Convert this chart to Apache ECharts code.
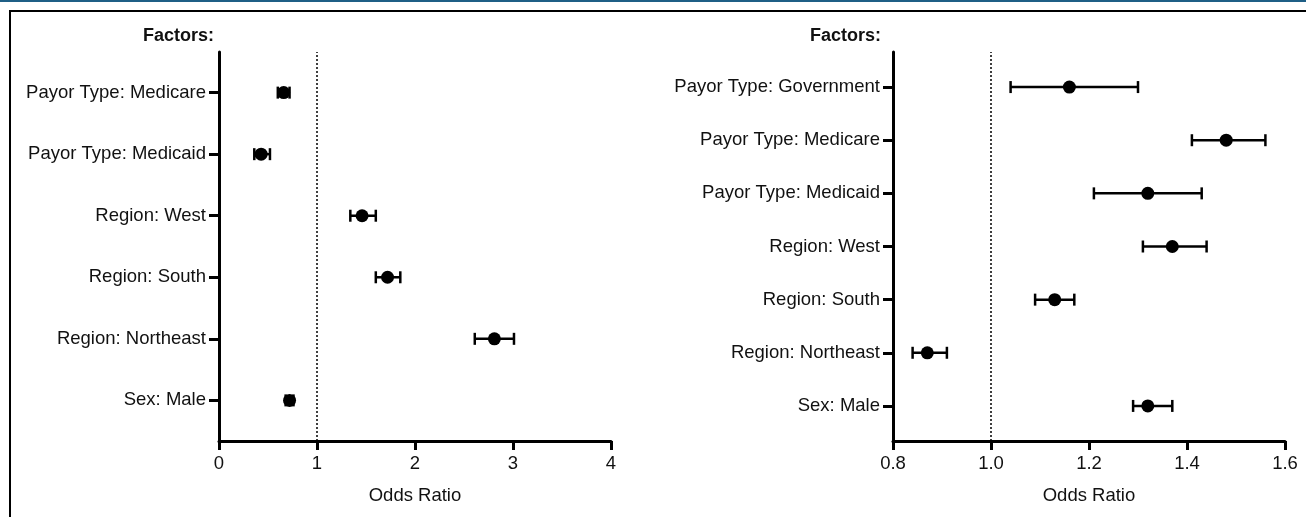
<!DOCTYPE html>
<html>
<head>
<meta charset="utf-8">
<script src="https://cdn.jsdelivr.net/npm/echarts@6/dist/echarts.min.js"></script>
<style>
html,body{margin:0;padding:0;background:#fff;}
#chart{width:1306px;height:517px;}
</style>
</head>
<body>
<div id="chart"></div>
<script>
// ---- Data (top to bottom order) ----
const leftFactors = ['Payor Type: Medicare','Payor Type: Medicaid','Region: West','Region: South','Region: Northeast','Sex: Male'];
const leftOR   = [0.66, 0.43, 1.46, 1.72, 2.81, 0.72];
const leftLow  = [0.60, 0.36, 1.34, 1.60, 2.61, 0.68];
const leftHigh = [0.72, 0.52, 1.60, 1.85, 3.01, 0.76];

const rightFactors = ['Payor Type: Government','Payor Type: Medicare','Payor Type: Medicaid','Region: West','Region: South','Region: Northeast','Sex: Male'];
const rightOR   = [1.16, 1.48, 1.32, 1.37, 1.13, 0.87, 1.32];
const rightLow  = [1.04, 1.41, 1.21, 1.31, 1.09, 0.84, 1.29];
const rightHigh = [1.30, 1.56, 1.43, 1.44, 1.17, 0.91, 1.37];

const leftTicks = [0, 1, 2, 3, 4];
const rightTicks = [0.8, 1.0, 1.2, 1.4, 1.6];

const FONT = 'Liberation Sans, Arial, Helvetica, sans-serif';
const TXT = '#111';
const FS = 18.5;
const PAD = 0.66;

function yAxisFor(idx, factors, namePad){
  const n = factors.length;
  const vals = factors.map((_, i) => i);
  return {
    type: 'value', gridIndex: idx,
    min: -PAD, max: n - 1 + PAD,
    name: 'Factors:', nameLocation: 'end', nameGap: 7,
    nameTextStyle: {fontFamily: FONT, fontSize: 18, fontWeight: 'bold', color: TXT, align: 'right', verticalAlign: 'bottom', padding: [0, namePad, 0, 0]},
    axisLine: {show: true, onZero: false, lineStyle: {color: '#000', width: 3}},
    axisTick: {show: true, inside: false, length: 10, lineStyle: {color: '#000', width: 3}, customValues: vals},
    axisLabel: {show: true, margin: 13, fontFamily: FONT, fontSize: FS, color: TXT, customValues: vals,
      formatter: v => factors[n - 1 - Math.round(v)]},
    splitLine: {show: false}
  };
}
function xAxisFor(idx, ticks, dec){
  const step = ticks[1] - ticks[0];
  return {
    type: 'value', gridIndex: idx,
    min: ticks[0], max: ticks[ticks.length - 1], interval: step,
    name: 'Odds Ratio', nameLocation: 'middle', nameGap: 45,
    nameTextStyle: {fontFamily: FONT, fontSize: FS, color: TXT},
    axisLine: {show: true, onZero: false, lineStyle: {color: '#000', width: 3}},
    axisTick: {show: true, inside: false, length: 9, lineStyle: {color: '#000', width: 3}},
    axisLabel: {show: true, margin: 13, fontFamily: FONT, fontSize: FS, color: TXT, showMaxLabel: true, showMinLabel: true,
      formatter: v => Number(v).toFixed(dec)},
    splitLine: {show: false}
  };
}
function errData(low, high){
  const n = low.length;
  return low.map((l, i) => [l, high[i], n - 1 - i]);
}
function ptData(or){
  const n = or.length;
  return or.map((v, i) => [v, n - 1 - i]);
}
function renderErr(params, api){
  const y = api.value(2);
  const a = api.coord([api.value(0), y]);
  const b = api.coord([api.value(1), y]);
  const h = 6;
  const style = {stroke: '#000', lineWidth: 2.5};
  return {type: 'group', children: [
    {type: 'line', shape: {x1: a[0], y1: a[1], x2: b[0], y2: b[1]}, style},
    {type: 'line', shape: {x1: a[0], y1: a[1] - h, x2: a[0], y2: a[1] + h}, style},
    {type: 'line', shape: {x1: b[0], y1: b[1] - h, x2: b[0], y2: b[1] + h}, style}
  ]};
}
function seriesFor(idx, or, low, high){
  return [
    {type: 'custom', xAxisIndex: idx, yAxisIndex: idx, renderItem: renderErr,
     encode: {x: [0, 1], y: 2}, data: errData(low, high), silent: true, z: 3},
    {type: 'scatter', xAxisIndex: idx, yAxisIndex: idx, data: ptData(or), symbol: 'circle', symbolSize: 13,
     itemStyle: {color: '#000', opacity: 1}, z: 4,
     markLine: {silent: true, symbol: 'none', label: {show: false},
       lineStyle: {type: [2, 2], color: '#000', width: 1.5, opacity: 1},
       data: [{xAxis: 1}]}}
  ];
}

const chart = echarts.init(document.getElementById('chart'), null, {renderer: 'canvas'});
chart.setOption({
  animation: false,
  backgroundColor: '#fff',
  grid: [
    {left: 219, right: 695, top: 52, bottom: 76},
    {left: 893, right: 21, top: 52, bottom: 76}
  ],
  xAxis: [xAxisFor(0, leftTicks, 0), xAxisFor(1, rightTicks, 1)],
  yAxis: [yAxisFor(0, leftFactors, 5), yAxisFor(1, rightFactors, 12)],
  series: [].concat(seriesFor(0, leftOR, leftLow, leftHigh), seriesFor(1, rightOR, rightLow, rightHigh)),
  graphic: [
    {type: 'rect', shape: {x: 0, y: 0, width: 1306, height: 2}, style: {fill: '#1f5f86'}, silent: true},
    {type: 'line', shape: {x1: 9, y1: 11, x2: 1306, y2: 11}, style: {stroke: '#000', lineWidth: 2}, silent: true},
    {type: 'line', shape: {x1: 10, y1: 11, x2: 10, y2: 517}, style: {stroke: '#000', lineWidth: 2}, silent: true}
  ]
});
</script>
</body>
</html>
